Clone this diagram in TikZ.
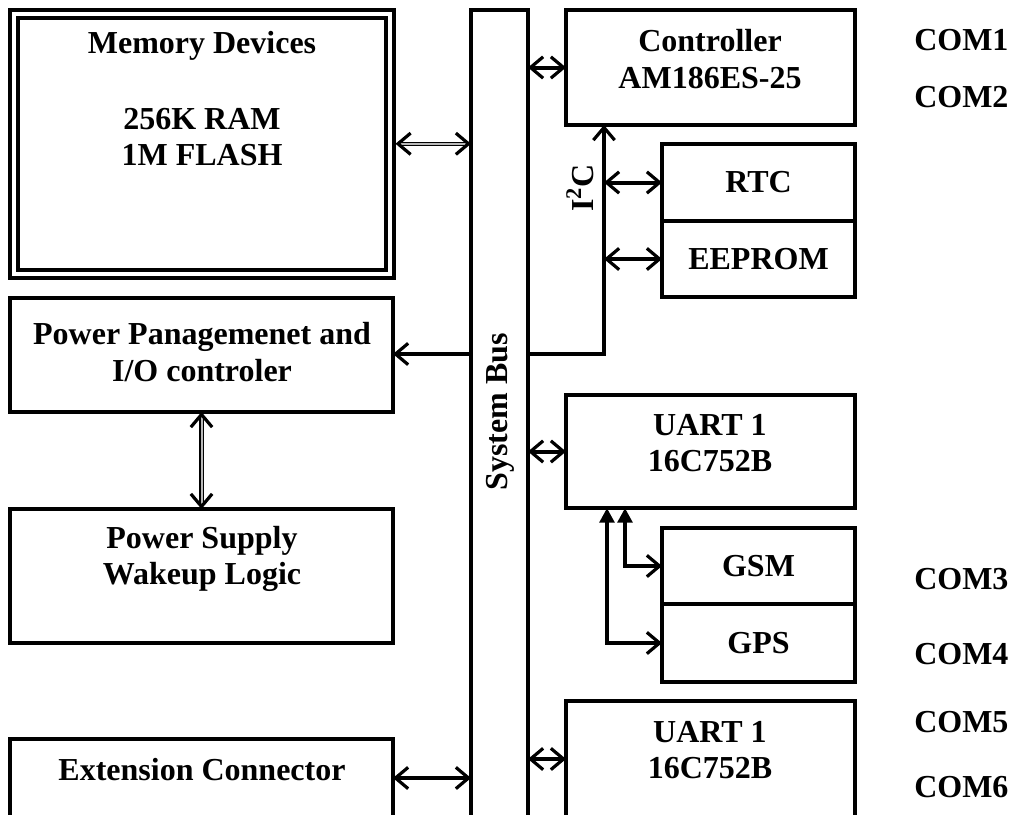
\documentclass[tikz,border=0pt]{standalone}
\usepackage{fontspec}
\setmainfont{Liberation Serif}
\usetikzlibrary{arrows.meta,calc}

\tikzset{
    block/.style={draw, line width=2.4pt, rectangle, inner sep=0pt, outer sep=0pt, anchor=north west, font=\bfseries\fontsize{24}{27.5}\selectfont},
    txt/.style={font=\bfseries\fontsize{24}{27.5}\selectfont, align=center, inner sep=0pt},
    busline/.style={draw, line width=3pt},
    dblline/.style={draw, line width=0.8pt, double=gray!55, double distance=1.5pt},
    barb/.tip={Straight Barb[length=9.5pt,width=16pt,line width=2.4pt]},
    fill tip/.tip={Triangle[length=11pt,width=11pt]},
}

\begin{document}
\begin{tikzpicture}[x=0.75pt,y=0.75pt,yscale=-1,xscale=1]
    \path[use as bounding box] (0,0) rectangle (1010,814);

    %Blocks
    \node[block, double, line width=3pt, double distance=3pt, outer sep=4.5pt, minimum width=282pt, minimum height=195.4pt] (mem) at (7.5,7.5) {};
    \node[block, minimum width=42.75pt, minimum height=606pt] (bus) at (471,10) {};
    \node[block, minimum width=216.75pt, minimum height=86.25pt] (ctrl) at (566,10) {};
    \node[block, minimum width=144.75pt, minimum height=57.75pt] (rtc) at (662,144) {RTC};
    \node[block, minimum width=144.75pt, minimum height=57pt] (eeprom) at (662,221) {EEPROM};
    \node[block, minimum width=287.25pt, minimum height=85.5pt] (pmgmt) at (10,298) {};
    \node[block, minimum width=216.75pt, minimum height=84.75pt] (uart1) at (566,395) {};
    \node[block, minimum width=144.75pt, minimum height=57pt] (gsm) at (662,528) {GSM};
    \node[block, minimum width=144.75pt, minimum height=58.5pt] (gps) at (662,604) {GPS};
    \node[block, minimum width=287.25pt, minimum height=100.5pt] (psu) at (10,509) {};
    \node[block, minimum width=216.75pt, minimum height=90pt] (uart2) at (566,701) {};
    \node[block, minimum width=287.25pt, minimum height=62pt] (ext) at (10,739) {};

    %Text
    \node[txt] (tmem) at (202,46) {Memory Devices};
    \node[txt] (tmemsz) at (202,137) {256K RAM\\1M FLASH};
    \node[txt] (tctrl) at (710,59) {Controller\\AM186ES-25};
    \node[txt] (tpmgmt) at (202,352) {Power Panagemenet and\\I/O controler};
    \node[txt] (tuart1) at (710,443) {UART 1\\16C752B};
    \node[txt] (tpsu) at (202,559) {Power Supply\\Wakeup Logic};
    \node[txt] (tuart2) at (710,750) {UART 1\\16C752B};
    \node[txt] (text) at (202,770) {Extension Connector};
    \node[txt, rotate=90] (tbus) at (500,412) {System Bus};
    \node[txt, rotate=90] (ti2c) at (580,188) {I\textsuperscript{2}C};

    %COM ports
    \node[txt, anchor=west] (com1) at (914,40) {COM1};
    \node[txt, anchor=west] (com2) at (914,97) {COM2};
    \node[txt, anchor=west] (com3) at (914,579) {COM3};
    \node[txt, anchor=west] (com4) at (914,654) {COM4};
    \node[txt, anchor=west] (com5) at (914,722) {COM5};
    \node[txt, anchor=west] (com6) at (914,787) {COM6};

    %Connectors
    \coordinate (i2c) at (604,354);
    \coordinate (u2) at ($(uart2.north west)+(0,58)$);
    \coordinate (ex) at ($(ext.north east)+(0,39)$);
    \draw[dblline, barb-barb] (mem.east) -- (mem.east -| bus.west);
    \draw[dblline, barb-barb] (pmgmt.south) -- (psu.north);
    \draw[busline, barb-barb] (bus.east |- ctrl.west) -- (ctrl.west);
    \draw[busline, -barb] (bus.east |- i2c) -- (i2c) -- (i2c |- ctrl.south);
    \draw[busline, barb-barb] (i2c |- rtc.west) -- (rtc.west);
    \draw[busline, barb-barb] (i2c |- eeprom.west) -- (eeprom.west);
    \draw[busline, -barb] (bus.west |- i2c) -- (pmgmt.east |- i2c);
    \draw[busline, barb-barb] (bus.east |- uart1.west) -- (uart1.west);
    \draw[busline, fill tip-barb] ($(uart1.south west)+(59,0)$) |- (gsm.west);
    \draw[busline, fill tip-barb] ($(uart1.south west)+(41,0)$) |- (gps.west);
    \draw[busline, barb-barb] (bus.east |- u2) -- (u2);
    \draw[busline, barb-barb] (ex) -- (ex -| bus.west);
\end{tikzpicture}
\end{document}
